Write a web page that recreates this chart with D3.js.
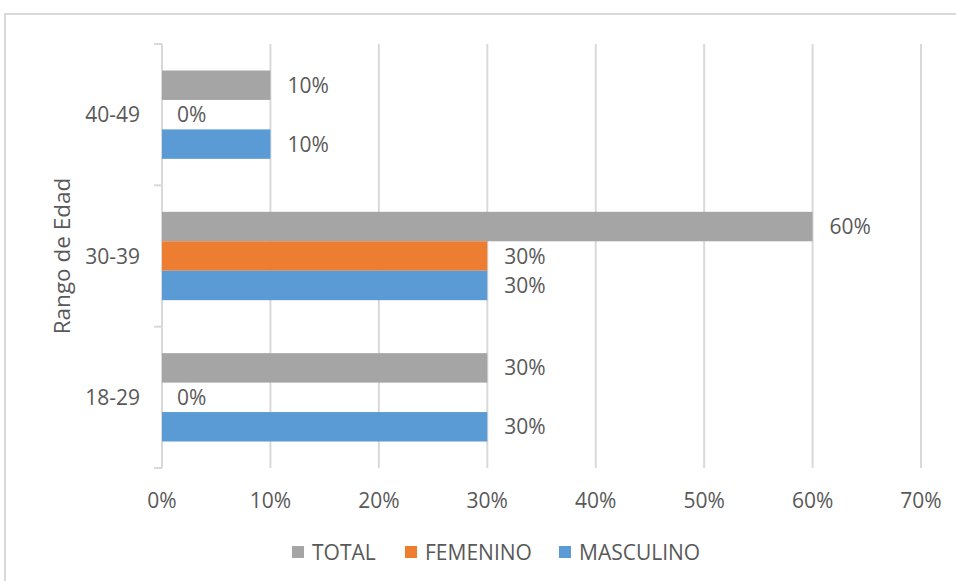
<!DOCTYPE html>
<html>
<head>
<meta charset="utf-8">
<script src="https://cdn.jsdelivr.net/npm/d3@7"></script>
<style>
  body { margin: 0; background: #fff; }
  text { font-family: "Open Sans", sans-serif; fill: #595959; }
</style>
</head>
<body>
<div id="chart"></div>
<script>
// data
var categories = ['40-49', '30-39', '18-29'];
var series = ['TOTAL', 'FEMENINO', 'MASCULINO'];
var total = [0.10, 0.60, 0.30];
var femenino = [0.00, 0.30, 0.00];
var masculino = [0.10, 0.30, 0.30];
var xTicks = [0, 0.1, 0.2, 0.3, 0.4, 0.5, 0.6, 0.7];
var colors = ['#a5a5a5', '#ed7d31', '#5b9bd5'];

var values = [total, femenino, masculino];

var W = 956, H = 581;
var svg = d3.select('#chart').append('svg')
  .attr('width', W)
  .attr('height', H);

// chart frame
svg.append('rect')
  .attr('x', 5).attr('y', 14)
  .attr('width', 1000).attr('height', 1000)
  .style('fill', 'none')
  .style('stroke', '#d9d9d9')
  .style('stroke-width', 2);

var x = d3.scaleLinear().domain([0, 0.7]).range([162, 921]);
var y0 = d3.scaleBand().domain(categories).range([44, 468]);
var y1 = d3.scaleBand().domain(series).range([0, y0.bandwidth()]).paddingOuter(0.9);

// gridlines
svg.append('g')
  .selectAll('line')
  .data(xTicks.slice(1))
  .enter().append('line')
  .attr('x1', d => x(d)).attr('x2', d => x(d))
  .attr('y1', 44).attr('y2', 468)
  .style('stroke', '#d9d9d9')
  .style('stroke-width', 2);

// y axis line + ticks
svg.append('line')
  .attr('x1', x(0)).attr('x2', x(0))
  .attr('y1', 44).attr('y2', 468)
  .style('stroke', '#d9d9d9')
  .style('stroke-width', 2);

var boundaries = categories.map(c => y0(c)).concat([y0.range()[1]]);
svg.append('g')
  .selectAll('line')
  .data(boundaries)
  .enter().append('line')
  .attr('x1', x(0) - 8).attr('x2', x(0))
  .attr('y1', d => d).attr('y2', d => d)
  .style('stroke', '#d9d9d9')
  .style('stroke-width', 2);

// bars
var rows = [];
categories.forEach(function(c, i) {
  series.forEach(function(s, j) {
    rows.push({cat: c, ser: s, v: values[j][i], color: colors[j]});
  });
});

var group = svg.append('g').attr('class', 'bars');

group.selectAll('rect')
  .data(rows)
  .enter().append('rect')
  .attr('x', x(0))
  .attr('y', d => y0(d.cat) + y1(d.ser))
  .attr('width', d => x(d.v) - x(0))
  .attr('height', y1.bandwidth())
  .style('fill', d => d.color);

group.selectAll('text')
  .data(rows)
  .enter().append('text')
  .attr('x', d => x(d.v) + (d.v === 0 ? 15 : 17))
  .attr('y', d => y0(d.cat) + y1(d.ser) + y1.bandwidth() / 2)
  .attr('dy', '0.36em')
  .style('font-size', '21px')
  .text(d => Math.round(d.v * 100) + '%');

// category labels
svg.append('g')
  .selectAll('text')
  .data(categories)
  .enter().append('text')
  .attr('x', 140)
  .attr('y', d => y0(d) + y0.bandwidth() / 2)
  .attr('dy', '0.36em')
  .attr('text-anchor', 'end')
  .style('font-size', '21px')
  .text(d => d);

// axis title
svg.append('text')
  .attr('transform', 'translate(62,' + 256 + ') rotate(-90)')
  .attr('dy', '0.36em')
  .attr('text-anchor', 'middle')
  .style('font-size', '22.5px')
  .text('Rango de Edad');

// x tick labels
svg.append('g')
  .selectAll('text')
  .data(xTicks)
  .enter().append('text')
  .attr('x', d => x(d))
  .attr('y', 500)
  .attr('dy', '0.36em')
  .attr('text-anchor', 'middle')
  .style('font-size', '21px')
  .text(d3.format('.0%'));

// legend
var legendX = [292, 405, 559];
series.forEach(function(s, j) {
  svg.append('rect')
    .attr('x', legendX[j]).attr('y', 546)
    .attr('width', 12).attr('height', 12)
    .style('fill', colors[j]);
  svg.append('text')
    .attr('x', legendX[j] + 20)
    .attr('y', 552)
    .attr('dy', '0.36em')
    .style('font-size', '21px')
    .text(s);
});
</script>
</body>
</html>
